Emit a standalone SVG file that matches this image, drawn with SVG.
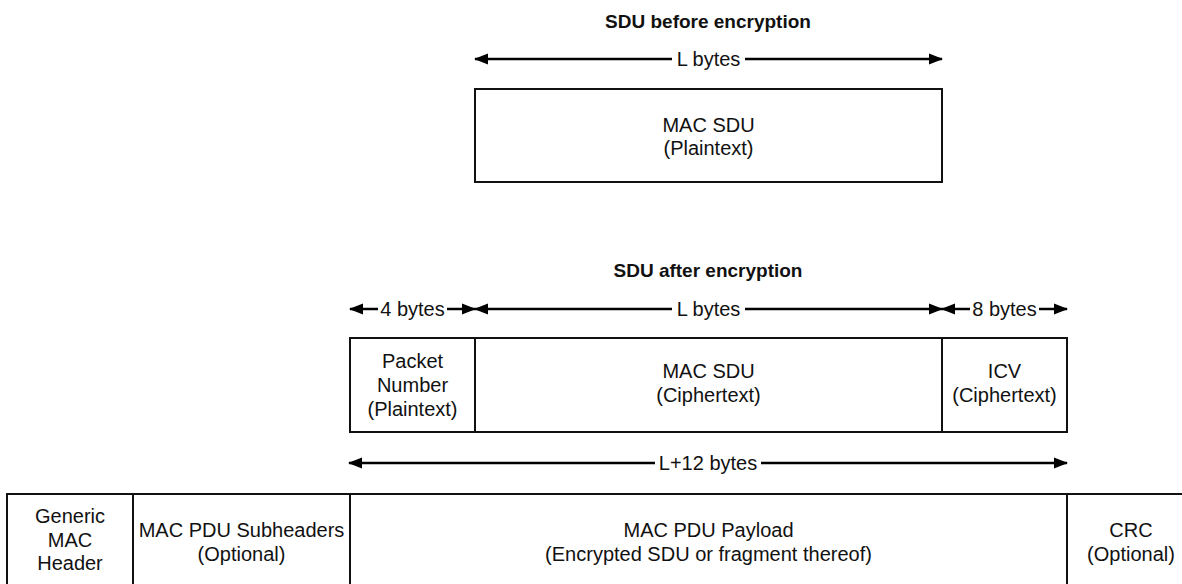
<svg xmlns="http://www.w3.org/2000/svg" width="1182" height="584" viewBox="0 0 1182 584">
<style>
.t{font-family:"Liberation Sans",Arial,sans-serif;font-size:20px;fill:#111;text-anchor:middle}
.h{font-family:"Liberation Sans",Arial,sans-serif;font-size:19px;font-weight:bold;fill:#111;text-anchor:middle}
.box{fill:#fff;stroke:#111;stroke-width:2}
.dim{stroke:#000;stroke-width:2.5;fill:none}
</style>
<defs>
<marker id="ah" markerUnits="userSpaceOnUse" markerWidth="14" markerHeight="12" refX="13" refY="5.5" orient="auto-start-reverse" viewBox="0 0 14 11">
<path d="M0,0 L14,5.5 L0,11 z" fill="#000"/>
</marker>
</defs>
<rect width="1182" height="584" fill="#fff"/>

<text class="h" x="708" y="28">SDU before encryption</text>
<text class="h" x="708" y="277">SDU after encryption</text>

<g id="connectors">
<line class="dim" x1="475" y1="59" x2="672" y2="59" marker-start="url(#ah)"/>
<line class="dim" x1="745" y1="59" x2="942" y2="59" marker-end="url(#ah)"/>
<text class="t" x="708.5" y="66">L bytes</text>

<line class="dim" x1="350" y1="309" x2="378" y2="309" marker-start="url(#ah)"/>
<line class="dim" x1="447" y1="309" x2="475" y2="309" marker-end="url(#ah)"/>
<text class="t" x="412.5" y="316">4 bytes</text>

<line class="dim" x1="475" y1="309" x2="672" y2="309" marker-start="url(#ah)"/>
<line class="dim" x1="745" y1="309" x2="942" y2="309" marker-end="url(#ah)"/>
<text class="t" x="708.5" y="316">L bytes</text>

<line class="dim" x1="942" y1="309" x2="970" y2="309" marker-start="url(#ah)"/>
<line class="dim" x1="1039" y1="309" x2="1067" y2="309" marker-end="url(#ah)"/>
<text class="t" x="1004.5" y="316">8 bytes</text>

<line class="dim" x1="349" y1="463" x2="655" y2="463" marker-start="url(#ah)"/>
<line class="dim" x1="761" y1="463" x2="1067" y2="463" marker-end="url(#ah)"/>
<text class="t" x="708" y="470">L+12 bytes</text>
</g>

<g id="sdu-plain">
<rect class="box" x="475" y="89" width="467" height="93"/>
<text class="t" x="708.5" y="132">MAC SDU</text>
<text class="t" x="708.5" y="155">(Plaintext)</text>
</g>

<g id="pn">
<rect class="box" x="350" y="338" width="125" height="94"/>
<text class="t" x="412.5" y="368">Packet</text>
<text class="t" x="412.5" y="392">Number</text>
<text class="t" x="412.5" y="416">(Plaintext)</text>
</g>
<g id="sdu-cipher">
<rect class="box" x="475" y="338" width="467" height="94"/>
<text class="t" x="708.5" y="378">MAC SDU</text>
<text class="t" x="708.5" y="402">(Ciphertext)</text>
</g>
<g id="icv">
<rect class="box" x="942" y="338" width="125" height="94"/>
<text class="t" x="1004.5" y="378">ICV</text>
<text class="t" x="1004.5" y="402">(Ciphertext)</text>
</g>

<g id="gmh">
<rect class="box" x="7" y="494" width="126" height="110"/>
<text class="t" x="70" y="523">Generic</text>
<text class="t" x="70" y="547">MAC</text>
<text class="t" x="70" y="570">Header</text>
</g>
<g id="subheaders">
<rect class="box" x="133" y="494" width="217" height="110"/>
<text class="t" x="241.5" y="537">MAC PDU Subheaders</text>
<text class="t" x="241.5" y="561">(Optional)</text>
</g>
<g id="payload">
<rect class="box" x="350" y="494" width="717" height="110"/>
<text class="t" x="708.5" y="537">MAC PDU Payload</text>
<text class="t" x="708.5" y="561">(Encrypted SDU or fragment thereof)</text>
</g>
<g id="crc">
<rect class="box" x="1067" y="494" width="130" height="110"/>
<text class="t" x="1131" y="537">CRC</text>
<text class="t" x="1131" y="561">(Optional)</text>
</g>
</svg>
